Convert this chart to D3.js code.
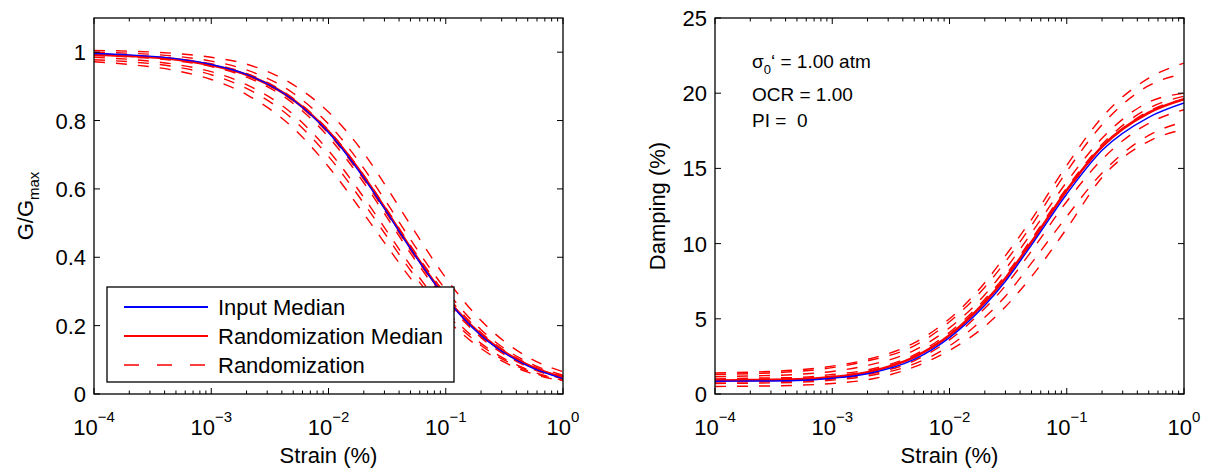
<!DOCTYPE html>
<html><head><meta charset="utf-8">
<script src="https://cdn.jsdelivr.net/npm/d3@7"></script>
<style>
body{margin:0;background:#fff}
text{font-family:"Liberation Sans",Arial,Helvetica,sans-serif;fill:#000}
</style></head>
<body><svg id="c" width="1207" height="472"></svg>
<script>
// ---------- data ----------
const strain = [1e-4,2e-4,5e-4,1e-3,2e-3,5e-3,1e-2,2e-2,3e-2,5e-2,1e-1,2e-1,5e-1,1];
const xTicks = [1e-4,1e-3,1e-2,1e-1,1];
const xTickExp = ["\u22124","\u22123","\u22122","\u22121","0"];

// G/Gmax
const ggInputMedian = [0.996,0.992,0.981,0.964,0.935,0.860,0.765,0.632,0.542,0.425,0.281,0.171,0.082,0.045];
const ggRandMedian  = [0.993,0.989,0.979,0.962,0.934,0.861,0.768,0.636,0.546,0.428,0.283,0.174,0.085,0.048];
const ggRand1 = [1.005,1.003,0.996,0.985,0.965,0.905,0.825,0.705,0.615,0.495,0.340,0.215,0.108,0.065];
const ggRand2 = [1.000,0.997,0.988,0.974,0.948,0.880,0.790,0.660,0.570,0.452,0.305,0.188,0.093,0.055];
const ggRand3 = [0.990,0.986,0.975,0.958,0.927,0.850,0.752,0.618,0.528,0.412,0.272,0.165,0.079,0.044];
const ggRand4 = [0.985,0.979,0.964,0.943,0.905,0.818,0.712,0.575,0.487,0.376,0.245,0.148,0.071,0.040];
const ggRand5 = [0.978,0.972,0.957,0.934,0.894,0.803,0.695,0.558,0.471,0.362,0.236,0.142,0.068,0.039];
const ggRand6 = [0.972,0.964,0.946,0.920,0.876,0.778,0.665,0.527,0.443,0.339,0.221,0.133,0.064,0.037];
const ggRand7 = [0.995,0.991,0.981,0.966,0.938,0.865,0.772,0.640,0.551,0.435,0.292,0.180,0.088,0.052];
const ggRand8 = [0.992,0.988,0.977,0.961,0.932,0.857,0.762,0.628,0.538,0.421,0.279,0.170,0.082,0.047];
const ggTicks = [0,0.2,0.4,0.6,0.8,1];
const ggTickLabels = ["0","0.2","0.4","0.6","0.8","1"];

// Damping (%)
const dInputMedian = [0.85,0.86,0.90,1.05,1.35,2.30,3.75,5.90,7.50,9.90,13.30,16.20,18.40,19.35];
const dRandMedian  = [0.90,0.92,0.97,1.12,1.45,2.45,3.90,6.10,7.70,10.10,13.55,16.45,18.70,19.60];
const dRand1 = [1.40,1.45,1.60,1.85,2.30,3.40,5.00,7.40,9.20,11.60,15.20,18.40,21.00,22.00];
const dRand2 = [1.30,1.35,1.50,1.75,2.20,3.20,4.80,7.10,8.80,11.20,14.80,17.90,20.50,21.30];
const dRand3 = [1.15,1.20,1.30,1.50,1.90,2.90,4.40,6.60,8.30,10.70,14.10,17.00,19.40,20.00];
const dRand4 = [1.00,1.05,1.10,1.30,1.60,2.60,4.10,6.30,7.90,10.30,13.70,16.60,19.00,19.80];
const dRand5 = [0.95,0.97,1.02,1.18,1.50,2.50,3.95,6.15,7.75,10.15,13.50,16.40,18.80,19.60];
const dRand6 = [0.80,0.82,0.87,1.00,1.30,2.20,3.60,5.70,7.20,9.50,12.80,15.60,18.00,18.90];
const dRand7 = [0.70,0.72,0.78,0.92,1.20,2.00,3.20,5.10,6.50,8.70,11.80,14.70,17.20,18.10];
const dRand8 = [0.50,0.52,0.58,0.70,0.95,1.80,2.90,4.50,5.80,7.80,11.00,14.40,16.80,17.60];
const dTicks = [0,5,10,15,20,25];
const dTickLabels = ["0","5","10","15","20","25"];

const legendLabels = ["Input Median","Randomization Median","Randomization"];
const annotation = ["OCR = 1.00","PI =  0"];

// ---------- drawing ----------
const svg = d3.select("#c");
const RED = "#ff0000", BLUE = "#0000ff";

function panel(id, box, yDomain, yTicks, yTickLabels, inputMed, randMed, rands, yLabelFn, ylx) {
  const x = d3.scaleLog().domain([1e-4,1]).range([box.x0, box.x1]);
  const y = d3.scaleLinear().domain(yDomain).range([box.y1, box.y0]);
  const g = svg.append("g");
  svg.append("clipPath").attr("id","clip"+id).append("rect")
    .attr("x",box.x0).attr("y",box.y0).attr("width",box.x1-box.x0).attr("height",box.y1-box.y0);
  const line = d3.line().x((d,i)=>x(strain[i])).y(d=>y(d)).curve(d3.curveMonotoneX);
  const cg = g.append("g").attr("clip-path","url(#clip"+id+")");
  rands.forEach(r=>{
    cg.append("path").attr("d",line(r)).attr("fill","none").attr("stroke",RED)
      .attr("stroke-width",1.4).attr("stroke-dasharray","11,11");
  });
  cg.append("path").attr("d",line(randMed)).attr("fill","none").attr("stroke",RED).attr("stroke-width",2.6);
  cg.append("path").attr("d",line(inputMed)).attr("fill","none").attr("stroke",BLUE).attr("stroke-width",1.4);

  // box
  g.append("rect").attr("x",box.x0).attr("y",box.y0).attr("width",box.x1-box.x0).attr("height",box.y1-box.y0)
    .attr("fill","none").attr("stroke","#000").attr("stroke-width",1.3);

  // x ticks (log, inside, bottom & top)
  const minor = [];
  for (let e=-4;e<0;e++) for (let m=2;m<=9;m++) minor.push(m*Math.pow(10,e));
  const tg = g.append("g").attr("stroke","#000").attr("stroke-width",1);
  xTicks.forEach(t=>{
    tg.append("line").attr("x1",x(t)).attr("x2",x(t)).attr("y1",box.y1).attr("y2",box.y1-6);
    tg.append("line").attr("x1",x(t)).attr("x2",x(t)).attr("y1",box.y0).attr("y2",box.y0+6);
  });
  minor.forEach(t=>{
    tg.append("line").attr("x1",x(t)).attr("x2",x(t)).attr("y1",box.y1).attr("y2",box.y1-3.5);
    tg.append("line").attr("x1",x(t)).attr("x2",x(t)).attr("y1",box.y0).attr("y2",box.y0+3.5);
  });
  yTicks.forEach(t=>{
    tg.append("line").attr("x1",box.x0).attr("x2",box.x0+6).attr("y1",y(t)).attr("y2",y(t));
    tg.append("line").attr("x1",box.x1).attr("x2",box.x1-6).attr("y1",y(t)).attr("y2",y(t));
  });
  // x tick labels
  xTicks.forEach((t,i)=>{
    const tx = g.append("text").attr("x",x(t)).attr("y",box.y1+41).attr("text-anchor","middle")
      .attr("font-size",22).text("10");
    tx.append("tspan").attr("dy",-13).attr("font-size",15).text(xTickExp[i]);
  });
  // y tick labels
  yTicks.forEach((t,i)=>{
    g.append("text").attr("x",box.x0-8).attr("y",y(t)+8).attr("text-anchor","end")
      .attr("font-size",22).text(yTickLabels[i]);
  });
  // x label
  g.append("text").attr("x",(box.x0+box.x1)/2).attr("y",box.y1+69).attr("text-anchor","middle")
    .attr("font-size",22).text("Strain (%)");
  // y label
  const yl = g.append("text").attr("transform",`translate(${ylx},${(box.y0+box.y1)/2}) rotate(-90)`)
    .attr("text-anchor","middle").attr("font-size",22);
  yLabelFn(yl);
  return {x,y,g};
}

const L = panel("L",{x0:94,x1:563,y0:18,y1:394},[0,1.1],ggTicks,ggTickLabels,
  ggInputMedian, ggRandMedian, [ggRand1,ggRand2,ggRand3,ggRand4,ggRand5,ggRand6,ggRand7,ggRand8],
  t=>{ t.text("G/G"); t.append("tspan").attr("font-size",15).attr("dy",6).text("max"); }, 33);

const R = panel("R",{x0:715,x1:1184,y0:18,y1:394},[0,25],dTicks,dTickLabels,
  dInputMedian, dRandMedian, [dRand1,dRand2,dRand3,dRand4,dRand5,dRand6,dRand7,dRand8],
  t=>{ t.text("Damping (%)"); }, 665);

// legend (left panel)
const lg = svg.append("g");
lg.append("rect").attr("x",107).attr("y",287).attr("width",347).attr("height",95)
  .attr("fill","#fff").attr("stroke","#000").attr("stroke-width",1.3);
const legStyles = [
  {c:BLUE,w:2.2,d:null},{c:RED,w:2.2,d:null},{c:RED,w:1.3,d:"15,18"}
];
legendLabels.forEach((lab,i)=>{
  const yy = 307 + i*29;
  const ln = lg.append("line").attr("x1",124).attr("x2",208).attr("y1",yy).attr("y2",yy)
    .attr("stroke",legStyles[i].c).attr("stroke-width",legStyles[i].w);
  if (legStyles[i].d) ln.attr("stroke-dasharray",legStyles[i].d);
  lg.append("text").attr("x",218).attr("y",yy+8).attr("font-size",22).text(lab);
});

// annotation (right panel)
const an = svg.append("g");
const a0 = an.append("text").attr("x",752).attr("y",68).attr("font-size",19).text("\u03C3");
a0.append("tspan").attr("font-size",13).attr("dy",6).text("0");
a0.append("tspan").attr("dy",-6).text("\u2018 = 1.00 atm");
annotation.forEach((s,i)=>{
  an.append("text").attr("x",752).attr("y",101+i*26).attr("font-size",19).attr("xml:space","preserve")
    .style("white-space","pre").text(s);
});
</script></body></html>
